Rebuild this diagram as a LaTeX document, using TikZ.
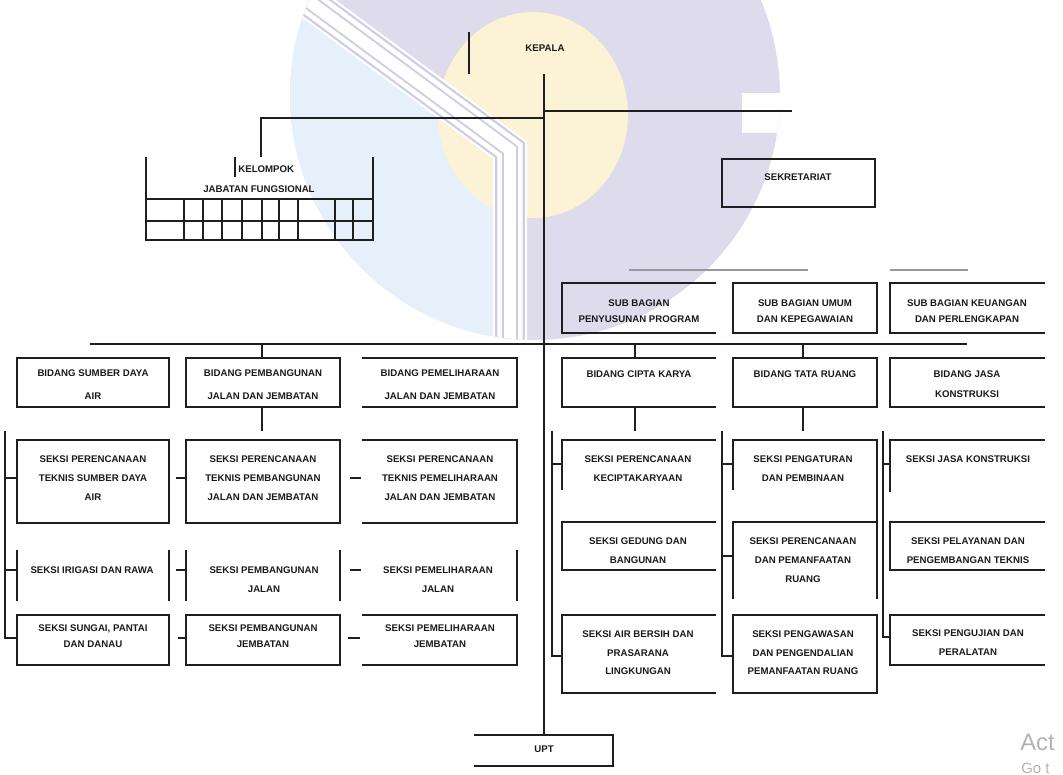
\documentclass[tikz,border=0pt]{standalone}
\usepackage{fontspec}
\setmainfont{Liberation Sans}
\definecolor{wmlav}{RGB}{221,219,236}
\definecolor{wmblue}{RGB}{229,240,250}
\definecolor{wmyel}{RGB}{252,243,214}
\definecolor{wmline}{RGB}{206,204,228}
\begin{document}
\begin{tikzpicture}[x=0.02cm,y=-0.02cm]
\tikzset{
  ln/.style={line width=1.1pt,draw=black!88},
  gl/.style={line width=1pt,draw=black!40},
  tx/.style={font=\fontsize{5.5}{11}\selectfont\bfseries,align=center,inner sep=0pt,anchor=north,text=black!90},
  txs/.style={tx,font=\fontsize{5.5}{9.2}\selectfont\bfseries},
  txl/.style={tx,font=\fontsize{5.5}{13}\selectfont\bfseries},
}
\useasboundingbox (0,0) rectangle (1063,775);
\clip (0,0) rectangle (1063,775);
% ---------- background watermark ----------
\begin{scope}
  \clip (535,95) circle [radius=4.9cm];
  \fill[wmlav] (200,-20) rectangle (900,400);
  \fill[wmblue] (150,-20) -- (269,-28) -- (510,150) -- (510,400) -- (150,400) -- cycle;
  \fill[wmyel] (533,115) ellipse [x radius=1.9cm, y radius=2.06cm];
  \fill[white] (742,93) rectangle (800,133);
  \draw[white,line width=19.5pt] (269,-28) -- (510,150) -- (510,400);
  \draw[wmline,line width=17pt] (269,-28) -- (510,150) -- (510,400);
  \draw[white,line width=14.5pt] (269,-28) -- (510,150) -- (510,400);
  \draw[wmline,line width=9pt] (269,-28) -- (510,150) -- (510,400);
  \draw[white,line width=6.8pt] (269,-28) -- (510,150) -- (510,400);
\end{scope}
\node[anchor=base west,font=\fontsize{13.5}{15}\selectfont,text=black!30,inner sep=0pt] (act) at (1020,750) {Act};
\node[anchor=base west,font=\fontsize{8.5}{10}\selectfont,text=black!30,inner sep=0pt] (goto) at (1021,773) {Go t};
% ---------- top ----------
\node[tx] (kepala) at (545,44.5) {KEPALA};
\coordinate (kl1) at (469,32); \coordinate (kl2) at (469,74);
\draw[ln] (kl1) -- (kl2);
\coordinate (trR) at (544,111); \coordinate (rEnd) at (792,111);
\coordinate (trL) at (544,118); \coordinate (lEnd) at (261,118); \coordinate (kTop) at (261,157);
\draw[ln] (trR) -- (rEnd);
\draw[ln] (trL) -- (lEnd) -- (kTop);
% ---------- kelompok jabatan fungsional ----------
\draw[ln] (146,157) -- (146,240) -- (373,240) -- (373,157);
\draw[ln] (146,199) -- (373,199) (146,221) -- (373,221);
\foreach \xx in {184,203,222,242,262,279,298,335,353} \draw[ln] (\xx,199) -- (\xx,240);
\draw[ln] (235,157) -- (235,177);
\node[tx,anchor=north west] (kel1) at (238,165.5) {KELOMPOK};
\node[tx] (kel2) at (259,185.5) {JABATAN FUNGSIONAL};
% ---------- sekretariat ----------
\draw[ln] (722,159) rectangle (875,207);
\node[tx] (sekr) at (798,173.5) {SEKRETARIAT};
\draw[gl] (629,270) -- (808,270) (890,270) -- (968,270);
% ---------- sub bagian ----------
\draw[ln] (716,283) -- (562,283) -- (562,333) -- (716,333);
\draw[ln] (733,283) rectangle (877,333);
\draw[ln] (1045,283) -- (890,283) -- (890,333) -- (1045,333);
\node[txs] (sb1) at (639,299.5) {SUB BAGIAN\\PENYUSUNAN PROGRAM};
\node[txs] (sb2) at (805,299.5) {SUB BAGIAN UMUM\\DAN KEPEGAWAIAN};
\node[txs] (sb3) at (967,299.5) {SUB BAGIAN KEUANGAN\\DAN PERLENGKAPAN};
% ---------- bidang row ----------
\coordinate (hL) at (90,344); \coordinate (hR) at (967,344);
\draw[ln] (hL) -- (hR);
\draw[ln] (544,74) -- (544,735);
\draw[ln] (262,344) -- (262,358) (262,407) -- (262,431);
\draw[ln] (635,344) -- (635,358) (635,407) -- (635,431);
\draw[ln] (803,344) -- (803,358) (803,407) -- (803,431);
\draw[ln] (17,358) rectangle (169,407);
\draw[ln] (186,358) rectangle (340,407);
\draw[ln] (362,358) -- (517,358) -- (517,407) -- (362,407);
\node[txl] (b1) at (93,369.5) {BIDANG SUMBER DAYA\\AIR};
\node[txl] (b2) at (263,369.5) {BIDANG PEMBANGUNAN\\JALAN DAN JEMBATAN};
\node[txl] (b3) at (440,369.5) {BIDANG PEMELIHARAAN\\JALAN DAN JEMBATAN};
\draw[ln] (716,358) -- (562,358) -- (562,407) -- (716,407);
\draw[ln] (733,358) rectangle (877,407);
\draw[ln] (1045,358) -- (890,358) -- (890,407) -- (1045,407);
\node[tx] (b4) at (639,370.5) {BIDANG CIPTA KARYA};
\node[tx] (b5) at (805,370.5) {BIDANG TATA RUANG};
\node[tx,font=\fontsize{5.5}{11.3}\selectfont\bfseries] (b6) at (967,370.5) {BIDANG JASA\\KONSTRUKSI};
% ---------- left seksi ----------
\draw[ln] (5,431) -- (5,638) -- (17,638);
\draw[ln] (5,478) -- (17,478) (5,570) -- (17,570);
\draw[ln] (17,440) rectangle (169,523);
\draw[ln] (186,440) rectangle (340,523);
\draw[ln] (362,440) -- (517,440) -- (517,523) -- (362,523);
\draw[ln] (176,478) -- (186,478) (350,478) -- (361,478);
\draw[ln] (17,550) -- (17,601) (169,550) -- (169,601) (186,550) -- (186,601) (340,550) -- (340,601) (517,550) -- (517,601);
\draw[ln] (176,570) -- (186,570) (350,570) -- (361,570);
\draw[ln] (17,615) rectangle (169,665);
\draw[ln] (186,615) rectangle (340,665);
\draw[ln] (362,615) -- (517,615) -- (517,665) -- (362,665);
\draw[ln] (178,638) -- (186,638) (348,638) -- (360,638);
\node[tx] (s11) at (93,455) {SEKSI PERENCANAAN\\TEKNIS SUMBER DAYA\\AIR};
\node[tx] (s12) at (263,455) {SEKSI PERENCANAAN\\TEKNIS PEMBANGUNAN\\JALAN DAN JEMBATAN};
\node[tx] (s13) at (440,455) {SEKSI PERENCANAAN\\TEKNIS PEMELIHARAAN\\JALAN DAN JEMBATAN};
\node[tx] (s21) at (92,566.5) {SEKSI IRIGASI DAN RAWA};
\node[tx,font=\fontsize{5.5}{10.8}\selectfont\bfseries] (s22) at (264,566.5) {SEKSI PEMBANGUNAN\\JALAN};
\node[tx,font=\fontsize{5.5}{10.8}\selectfont\bfseries] (s23) at (438,566.5) {SEKSI PEMELIHARAAN\\JALAN};
\node[txs] (s31) at (93,624) {SEKSI SUNGAI, PANTAI\\DAN DANAU};
\node[txs] (s32) at (263,624) {SEKSI PEMBANGUNAN\\JEMBATAN};
\node[txs] (s33) at (440,624) {SEKSI PEMELIHARAAN\\JEMBATAN};
% ---------- right seksi ----------
\draw[ln] (552,431) -- (552,656) -- (562,656);
\draw[ln] (552,464) -- (562,464);
\draw[ln] (716,440) -- (562,440) -- (562,490);
\draw[ln] (716,522) -- (562,522) -- (562,570) -- (716,570);
\draw[ln] (716,615) -- (562,615) -- (562,693) -- (716,693);
\draw[ln] (722,431) -- (722,656) -- (733,656);
\draw[ln] (722,464) -- (733,464) (722,556) -- (733,556);
\draw[ln] (733,490) -- (733,440) -- (877,440) -- (877,599);
\draw[ln] (733,599) -- (733,522) -- (877,522);
\draw[ln] (733,615) rectangle (877,693);
\draw[ln] (883,431) -- (883,637) -- (890,637);
\draw[ln] (883,464) -- (890,464);
\draw[ln] (1045,440) -- (890,440) -- (890,492);
\draw[ln] (1045,522) -- (890,522) -- (890,570) -- (1045,570);
\draw[ln] (1045,615) -- (890,615) -- (890,665) -- (1045,665);
\node[tx] (ra1) at (638,455.5) {SEKSI PERENCANAAN\\KECIPTAKARYAAN};
\node[tx,font=\fontsize{5.5}{10.8}\selectfont\bfseries] (ra2) at (638,537.5) {SEKSI GEDUNG DAN\\BANGUNAN};
\node[tx,font=\fontsize{5.5}{10.6}\selectfont\bfseries] (ra3) at (638,630.5) {SEKSI AIR BERSIH DAN\\PRASARANA\\LINGKUNGAN};
\node[tx] (rb1) at (803,455.5) {SEKSI PENGATURAN\\DAN PEMBINAAN};
\node[tx,font=\fontsize{5.5}{10.8}\selectfont\bfseries] (rb2) at (803,537.5) {SEKSI PERENCANAAN\\DAN PEMANFAATAN\\RUANG};
\node[tx,font=\fontsize{5.5}{10.6}\selectfont\bfseries] (rb3) at (803,630.5) {SEKSI PENGAWASAN\\DAN PENGENDALIAN\\PEMANFAATAN RUANG};
\node[tx] (rc1) at (968,455.5) {SEKSI JASA KONSTRUKSI};
\node[tx,font=\fontsize{5.5}{10.8}\selectfont\bfseries] (rc2) at (968,537.5) {SEKSI PELAYANAN DAN\\PENGEMBANGAN TEKNIS};
\node[tx] (rc3) at (968,629.5) {SEKSI PENGUJIAN DAN\\PERALATAN};
% ---------- UPT ----------
\draw[ln] (474,735) -- (613,735) -- (613,766) -- (474,766);
\node[tx] (upt) at (544,745.5) {UPT};
\end{tikzpicture}
\end{document}
